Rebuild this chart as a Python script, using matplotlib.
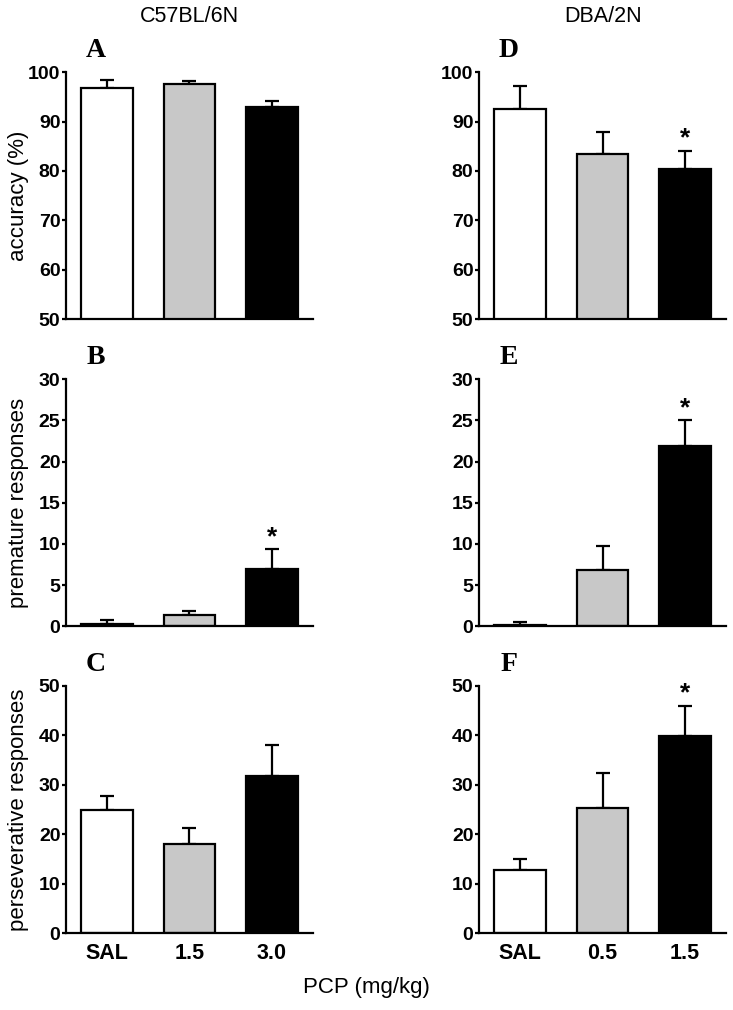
import matplotlib
matplotlib.use("Agg")
import matplotlib.pyplot as plt

plt.rcParams['font.family'] = ['Liberation Sans', 'DejaVu Sans']

# grupos de dosis
dosis_c57 = ["SAL", "1.5", "3.0"]
dosis_dba = ["SAL", "0.5", "1.5"]
colores = ["white", "#c8c8c8", "black"]

# C57BL/6N (A, B, C): media y error
precision_c57 = [96.8, 97.5, 93.0]
precision_c57_err = [1.6, 0.8, 1.2]
prematuras_c57 = [0.3, 1.35, 7.0]
prematuras_c57_err = [0.5, 0.5, 2.35]
perseverativas_c57 = [24.9, 18.1, 31.8]
perseverativas_c57_err = [2.8, 3.2, 6.3]

# DBA/2N (D, E, F)
precision_dba = [92.6, 83.4, 80.4]
precision_dba_err = [4.6, 4.5, 3.7]
prematuras_dba = [0.12, 6.8, 21.85]
prematuras_dba_err = [0.35, 2.9, 3.2]
perseverativas_dba = [12.8, 25.3, 39.9]
perseverativas_dba_err = [2.25, 7.1, 6.1]

# asteriscos de significancia
sig_c57 = [[False, False, False], [False, False, True], [False, False, False]]
sig_dba = [[False, False, True], [False, False, True], [False, False, True]]

fig = plt.figure(figsize=(7.33, 10.1), dpi=100)

izq = [0.090, 0.6535]
abajo = [0.684, 0.380, 0.0762]
ancho, alto = 0.337, 0.2446

ylims = [(50, 100), (0, 30), (0, 50)]
yticks = [range(50, 101, 10), range(0, 31, 5), range(0, 51, 10)]
ylabels = ["accuracy (%)", "premature responses", "perseverative responses"]
letras = [["A", "B", "C"], ["D", "E", "F"]]

datos = [
    [(precision_c57, precision_c57_err), (prematuras_c57, prematuras_c57_err),
     (perseverativas_c57, perseverativas_c57_err)],
    [(precision_dba, precision_dba_err), (prematuras_dba, prematuras_dba_err),
     (perseverativas_dba, perseverativas_dba_err)],
]
sigs = [sig_c57, sig_dba]
etiquetas = [dosis_c57, dosis_dba]

for col in range(2):
    for fila in range(3):
        ax = fig.add_axes([izq[col], abajo[fila], ancho, alto])
        medias, errores = datos[col][fila]
        x = range(len(medias))
        ax.bar(x, medias, width=0.63, color=colores, edgecolor="black",
               linewidth=1.6, zorder=2)
        ax.errorbar(x, medias, yerr=[[0, 0, 0], errores], fmt="none",
                    ecolor="black", elinewidth=1.6, capsize=5, capthick=1.6, zorder=1)
        for i in x:
            if sigs[col][fila][i]:
                ax.annotate("*", xy=(i, medias[i] + errores[i]), xytext=(0, 0),
                            textcoords="offset points", ha="center", va="bottom",
                            fontsize=19, fontweight="bold")
        ax.set_xlim(-0.5, 2.5)
        ax.set_ylim(*ylims[fila])
        ax.set_yticks(list(yticks[fila]))
        for s in ["top", "right"]:
            ax.spines[s].set_visible(False)
        for s in ["left", "bottom"]:
            ax.spines[s].set_linewidth(1.6)
        ax.tick_params(axis="y", direction="out", length=3, width=1.6,
                       labelsize=14, pad=1)
        for t in ax.get_yticklabels():
            t.set_fontweight("bold")
        if fila == 2:
            ax.set_xticks(list(x))
            ax.set_xticklabels(etiquetas[col], fontsize=15.5, fontweight="bold")
            ax.tick_params(axis="x", length=0, pad=7)
        else:
            ax.set_xticks([])
        if col == 0:
            ax.set_ylabel(ylabels[fila], fontsize=16)
            ax.yaxis.set_label_coords(-0.15, 0.5)
        ax.text(0.12, 0.06 + 1, letras[col][fila], transform=ax.transAxes,
                family="Liberation Serif", fontweight="bold", fontsize=20,
                ha="center", va="baseline")

fig.text(189 / 733, 1 - 17 / 1010, "C57BL/6N", ha="center", va="center", fontsize=15.5)
fig.text(603 / 733, 1 - 17 / 1010, "DBA/2N", ha="center", va="center", fontsize=15.5)
fig.text(366 / 733, 1 - 988 / 1010, "PCP (mg/kg)", ha="center", va="center", fontsize=16)

fig.savefig("out.png", dpi=100)
